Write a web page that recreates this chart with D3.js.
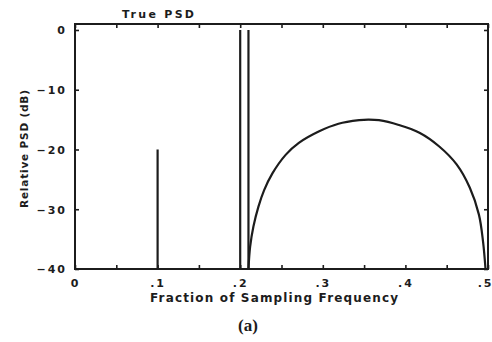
<!DOCTYPE html>
<html>
<head>
<meta charset="utf-8">
<script src="https://cdn.jsdelivr.net/npm/d3@7"></script>
<style>
  body { margin: 0; background: #fff; }
  svg text { font-family: "DejaVu Sans", sans-serif; font-weight: bold; fill: #1c1c1c; }
</style>
</head>
<body>
<div class="canvas"></div>
<script>
// sinusoid lines: frequency and level (dB)
const lineFreqs = [0.1, 0.2, 0.21]
const lineLevels = [-20, 0, 0]

// coloured noise band
const bandFreqs = [0.210, 0.212, 0.216, 0.222, 0.229, 0.239, 0.255, 0.271, 0.295, 0.319,
    0.344, 0.355, 0.368, 0.392, 0.417, 0.441, 0.462, 0.478, 0.489, 0.494, 0.497]
const bandLevels = [-40, -36.3, -32.9, -29.6, -26.8, -24.0, -20.9, -18.9, -17.0, -15.7,
    -15.1, -15.0, -15.1, -15.9, -17.2, -19.5, -22.5, -26.4, -30.9, -35.4, -40]

const xTicks = [0, 0.05, 0.1, 0.15, 0.2, 0.25, 0.3, 0.35, 0.4, 0.45, 0.5]
const xLabels = [0, 0.1, 0.2, 0.3, 0.4, 0.5]
const yTicks = [-40, -30, -20, -10, 0]

const ink = "#1c1c1c"

const svg = d3.select(".canvas")
    .append("svg")
    .attr("width", 492)
    .attr("height", 342)

const margin = { top: 24, right: 4, bottom: 73, left: 75 }
const graphWidth = 492 - margin.left - margin.right
const graphHeight = 342 - margin.top - margin.bottom

const graph = svg.append("g")
    .attr("transform", `translate(${margin.left}, ${margin.top})`)

const scaleX = d3.scaleLinear()
    .domain([0, 0.5])
    .range([0, graphWidth])

const scaleY = d3.scaleLinear()
    .domain([-40, 1])
    .range([graphHeight, 0])

// axes: small inward ticks on every side
const xFormat = d => xLabels.some(v => Math.abs(v - d) < 1e-9)
    ? (d === 0 ? "0" : d3.format(".1f")(d).replace("0.", "."))
    : ""

const bottomAxis = graph.append("g")
    .attr("transform", `translate(0, ${graphHeight})`)
    .call(d3.axisBottom(scaleX).tickValues(xTicks).tickSizeInner(-4).tickSizeOuter(0).tickPadding(10).tickFormat(xFormat))
const topAxis = graph.append("g")
    .call(d3.axisTop(scaleX).tickValues(xTicks).tickSizeInner(-4).tickSizeOuter(0).tickFormat(""))
const leftAxis = graph.append("g")
    .call(d3.axisLeft(scaleY).tickValues(yTicks).tickSizeInner(-4).tickSizeOuter(0).tickPadding(8).tickFormat(d3.format("d")))
const rightAxis = graph.append("g")
    .attr("transform", `translate(${graphWidth}, 0)`)
    .call(d3.axisRight(scaleY).tickValues(yTicks).tickSizeInner(-4).tickSizeOuter(0).tickFormat(""))

;[bottomAxis, topAxis, leftAxis, rightAxis].forEach(a => {
    a.select(".domain").remove()
    a.selectAll("line").attr("stroke", ink).attr("stroke-width", 1.6)
    a.selectAll("text")
        .attr("font-size", 11)
        .attr("letter-spacing", 2)
        .attr("fill", ink)
})
leftAxis.selectAll("text").attr("dy", "0.36em")
// last label sits at the window edge, keep it inside
bottomAxis.selectAll("text")
    .filter(d => d === 0.5)
    .attr("text-anchor", "end")
    .attr("x", 5)

// frame
graph.append("rect")
    .attr("x", 0)
    .attr("y", 0)
    .attr("width", graphWidth)
    .attr("height", graphHeight)
    .attr("fill", "none")
    .attr("stroke", ink)
    .attr("stroke-width", 2)

// sinusoid spikes
graph.selectAll(".spike")
    .data(lineFreqs.map((f, i) => ({ f, db: lineLevels[i] })))
    .enter()
    .append("line")
    .attr("class", "spike")
    .attr("x1", d => scaleX(d.f))
    .attr("x2", d => scaleX(d.f))
    .attr("y1", scaleY(-40))
    .attr("y2", d => scaleY(d.db))
    .attr("stroke", ink)
    .attr("stroke-width", 2.2)

// noise band
const line = d3.line()
    .x(d => scaleX(d.f))
    .y(d => scaleY(d.db))
    .curve(d3.curveCatmullRom.alpha(0.5))

graph.append("path")
    .datum(bandFreqs.map((f, i) => ({ f, db: bandLevels[i] })))
    .attr("d", line)
    .attr("fill", "none")
    .attr("stroke", ink)
    .attr("stroke-width", 2.2)

// labels
svg.append("text")
    .attr("x", 158)
    .attr("y", 18)
    .attr("text-anchor", "middle")
    .attr("font-size", 11)
    .attr("textLength", 72)
    .attr("lengthAdjust", "spacing")
    .text("True PSD")

svg.append("text")
    .attr("transform", "translate(28, 149) rotate(-90)")
    .attr("text-anchor", "middle")
    .attr("font-size", 10.5)
    .attr("textLength", 118)
    .attr("lengthAdjust", "spacing")
    .text("Relative PSD (dB)")

svg.append("text")
    .attr("x", 274)
    .attr("y", 302)
    .attr("text-anchor", "middle")
    .attr("font-size", 12)
    .attr("textLength", 248)
    .attr("lengthAdjust", "spacing")
    .text("Fraction of Sampling Frequency")

svg.append("text")
    .attr("x", 248)
    .attr("y", 331)
    .attr("text-anchor", "middle")
    .attr("font-size", 17)
    .style("font-family", "'Liberation Serif', serif")
    .text("(a)")
</script>
</body>
</html>
